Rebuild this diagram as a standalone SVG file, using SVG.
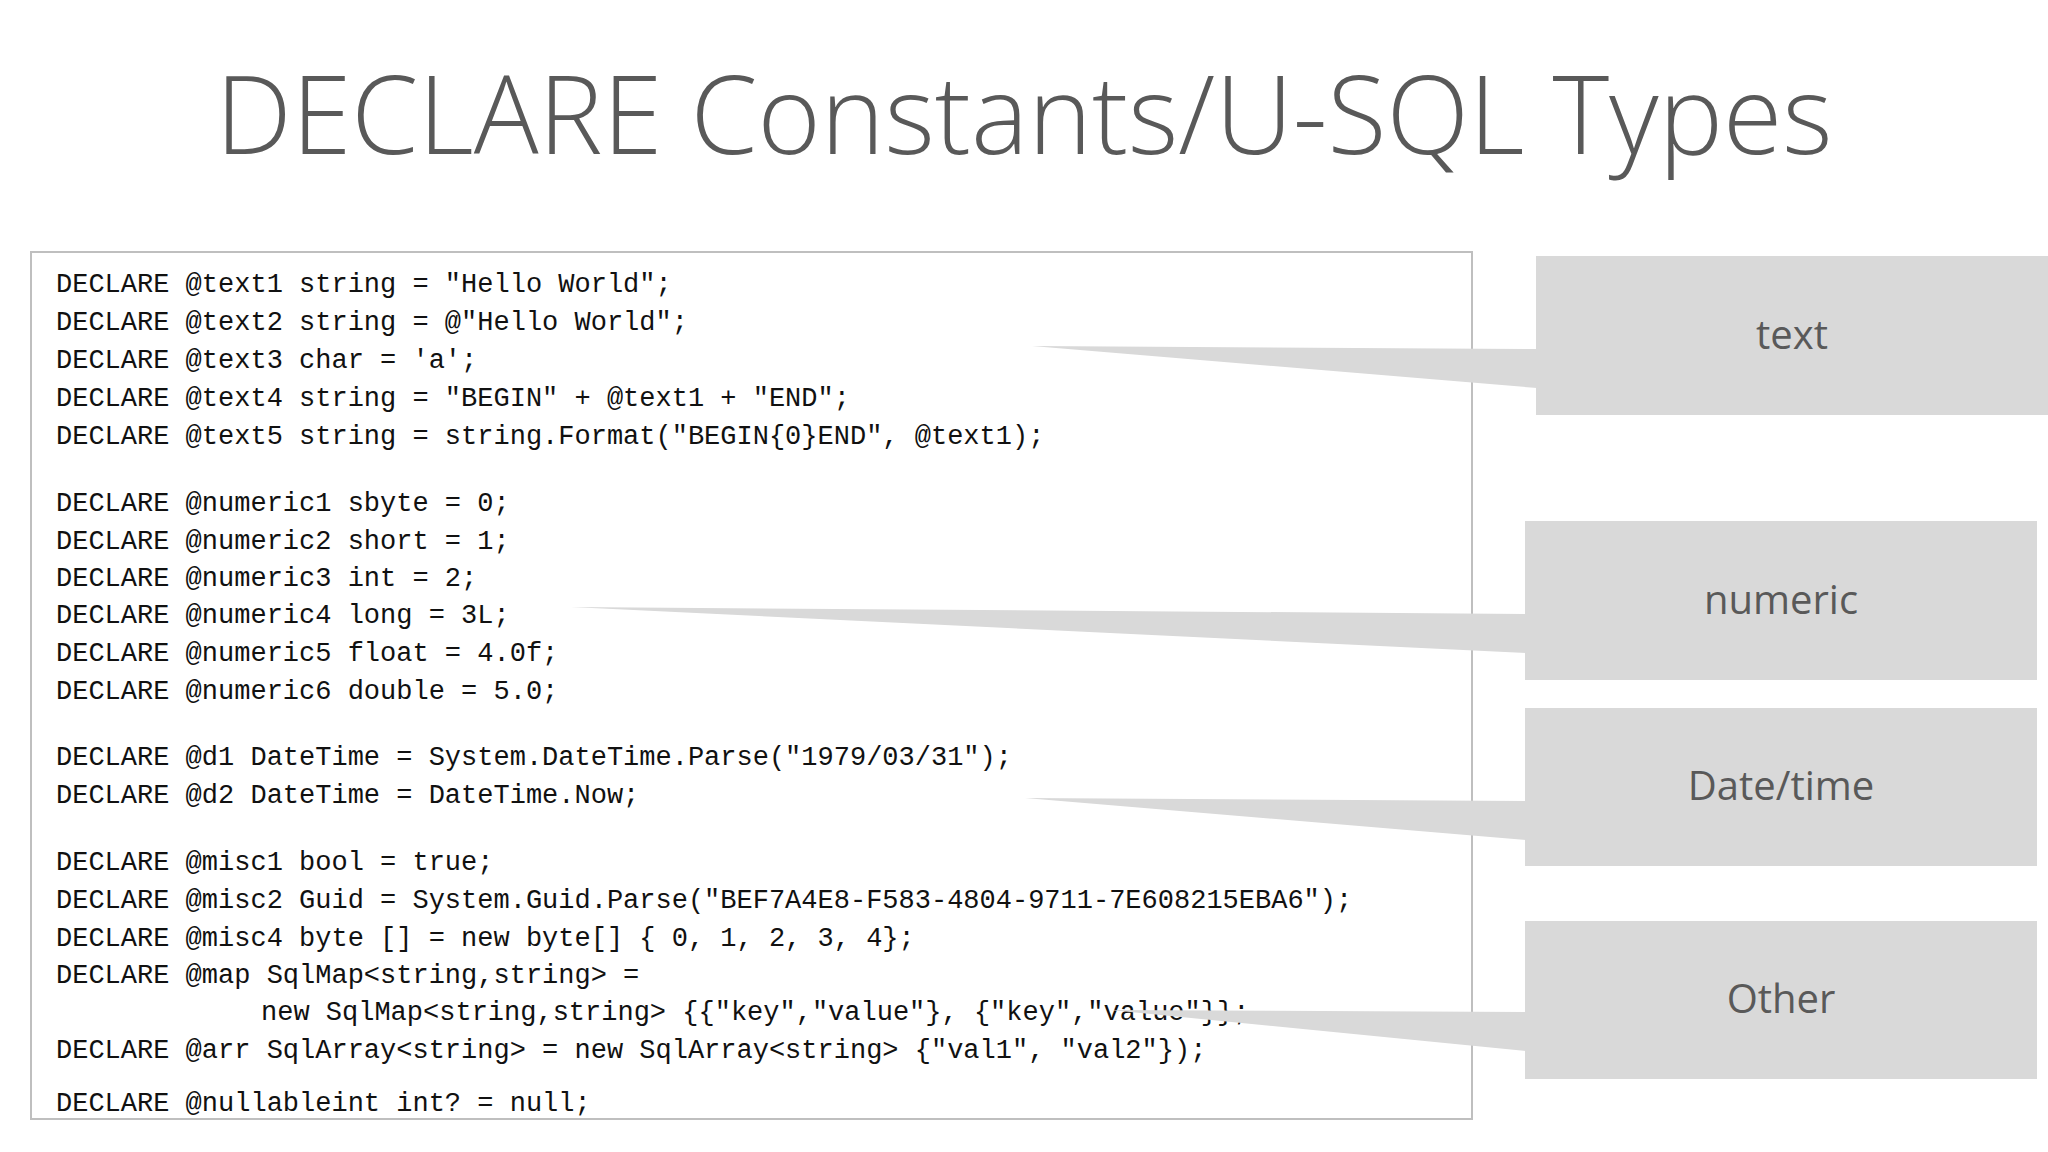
<svg xmlns="http://www.w3.org/2000/svg" width="2048" height="1152" viewBox="0 0 2048 1152">
<style>
.code{font-family:"Liberation Mono","DejaVu Sans Mono",monospace;font-size:27px;fill:#111}
.lbl{font-family:"Open Sans","Noto Sans",sans-serif;font-size:40px;fill:#595959;text-anchor:middle}
.box{fill:#d9d9d9}
.wedge{fill:#d9d9d9}
</style>
<rect width="2048" height="1152" fill="#fff"/>
<text x="1024" y="154" font-family="Open Sans, Noto Sans, sans-serif" font-weight="300" font-size="108" fill="#595959" text-anchor="middle">DECLARE Constants/U-SQL Types</text>
<g id="code">
<rect x="31" y="252" width="1441" height="867" fill="#fff" stroke="#bfbfbf" stroke-width="2"/>
<text class="code" x="56" y="292">DECLARE @text1 string = "Hello World";</text>
<text class="code" x="56" y="330">DECLARE @text2 string = @"Hello World";</text>
<text class="code" x="56" y="368">DECLARE @text3 char = 'a';</text>
<text class="code" x="56" y="406">DECLARE @text4 string = "BEGIN" + @text1 + "END";</text>
<text class="code" x="56" y="444">DECLARE @text5 string = string.Format("BEGIN{0}END", @text1);</text>
<text class="code" x="56" y="511">DECLARE @numeric1 sbyte = 0;</text>
<text class="code" x="56" y="549">DECLARE @numeric2 short = 1;</text>
<text class="code" x="56" y="586">DECLARE @numeric3 int = 2;</text>
<text class="code" x="56" y="623">DECLARE @numeric4 long = 3L;</text>
<text class="code" x="56" y="661">DECLARE @numeric5 float = 4.0f;</text>
<text class="code" x="56" y="699">DECLARE @numeric6 double = 5.0;</text>
<text class="code" x="56" y="765">DECLARE @d1 DateTime = System.DateTime.Parse("1979/03/31");</text>
<text class="code" x="56" y="803">DECLARE @d2 DateTime = DateTime.Now;</text>
<text class="code" x="56" y="870">DECLARE @misc1 bool = true;</text>
<text class="code" x="56" y="908">DECLARE @misc2 Guid = System.Guid.Parse("BEF7A4E8-F583-4804-9711-7E608215EBA6");</text>
<text class="code" x="56" y="946">DECLARE @misc4 byte [] = new byte[] { 0, 1, 2, 3, 4};</text>
<text class="code" x="56" y="983">DECLARE @map SqlMap&lt;string,string&gt; =</text>
<text class="code" x="261" y="1020">new SqlMap&lt;string,string&gt; {{"key","value"}, {"key","value"}};</text>
<text class="code" x="56" y="1058">DECLARE @arr SqlArray&lt;string&gt; = new SqlArray&lt;string&gt; {"val1", "val2"});</text>
<text class="code" x="56" y="1111">DECLARE @nullableint int? = null;</text>
</g>
<g id="connectors">
<polygon class="wedge" points="1032,346 1537,349 1537,388"/>
<polygon class="wedge" points="571,607 1526,614 1526,653"/>
<polygon class="wedge" points="1025,798 1526,801 1526,840"/>
<polygon class="wedge" points="1110,1010 1526,1012 1526,1051"/>
</g>
<g id="n-text"><rect class="box" x="1536" y="256" width="512" height="159"/><text class="lbl" x="1792" y="349">text</text></g>
<g id="n-numeric"><rect class="box" x="1525" y="521" width="512" height="159"/><text class="lbl" x="1781" y="614">numeric</text></g>
<g id="n-datetime"><rect class="box" x="1525" y="708" width="512" height="158"/><text class="lbl" x="1781" y="800">Date/time</text></g>
<g id="n-other"><rect class="box" x="1525" y="921" width="512" height="158"/><text class="lbl" x="1781" y="1013">Other</text></g>
</svg>
